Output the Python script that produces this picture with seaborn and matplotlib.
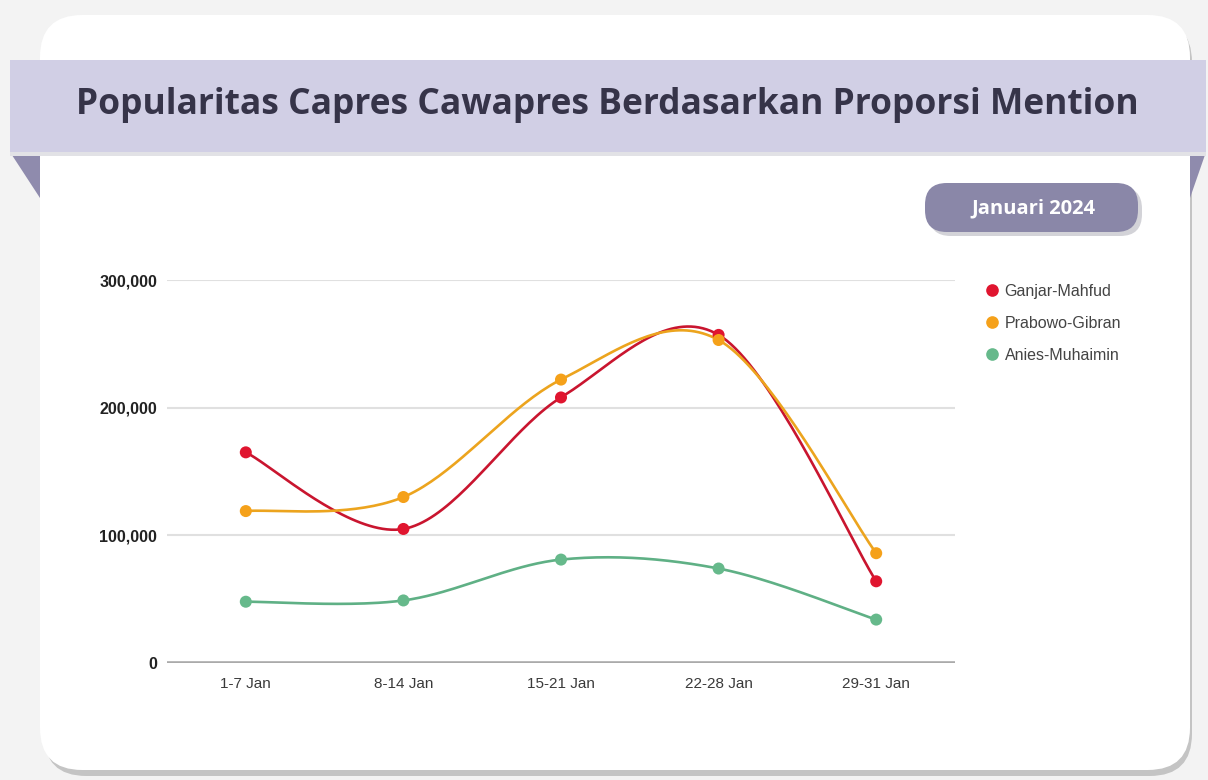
import numpy as np
import pandas as pd
import matplotlib
matplotlib.use("Agg")
import matplotlib.pyplot as plt
import seaborn as sns
from matplotlib.patches import FancyBboxPatch, Polygon
from matplotlib.ticker import FuncFormatter

# ---------------- data ----------------
periods = ["1-7 Jan", "8-14 Jan", "15-21 Jan", "22-28 Jan", "29-31 Jan"]
ganjar = [165000, 105000, 208000, 257000, 64000]
prabowo = [119000, 130000, 222000, 253000, 86000]
anies = [48000, 49000, 81000, 74000, 34000]
series_names = ["Ganjar-Mahfud", "Prabowo-Gibran", "Anies-Muhaimin"]
y_ticks = [0, 100000, 200000, 300000]
title = "Popularitas Capres Cawapres Berdasarkan Proporsi Mention"
badge = "Januari 2024"

marker_colors = ["#e0152f", "#f5a11a", "#66b98b"]
line_colors = ["#c9152f", "#eca41e", "#5fb085"]

W, H = 1208, 780
sns.set_theme(style="white")
plt.rcParams["font.family"] = ["Liberation Sans", "DejaVu Sans"]

fig = plt.figure(figsize=(W / 100, H / 100), dpi=100)
fig.patch.set_facecolor("#f3f3f3")


def fx(px):
    return px / W


def fy(py):
    return 1 - py / H


# ---------------- background decoration ----------------
shadow = FancyBboxPatch((fx(44), fy(776)), fx(1192) - fx(44), fy(20) - fy(776),
                        boxstyle="round,pad=0,rounding_size=0.035",
                        transform=fig.transFigure, facecolor="#c4c4c4",
                        edgecolor="none", zorder=-12, mutation_aspect=W / H)
fig.add_artist(shadow)
card = FancyBboxPatch((fx(40), fy(770)), fx(1190) - fx(40), fy(15) - fy(770),
                      boxstyle="round,pad=0,rounding_size=0.035",
                      transform=fig.transFigure, facecolor="white",
                      edgecolor="none", zorder=-11, mutation_aspect=W / H)
fig.add_artist(card)

tri_l = Polygon([(fx(10), fy(152)), (fx(40), fy(152)), (fx(40), fy(198))],
                closed=True, transform=fig.transFigure, facecolor="#8f8bad",
                edgecolor="none", zorder=-10)
tri_r = Polygon([(fx(1190), fy(152)), (fx(1206), fy(152)), (fx(1190), fy(198))],
                closed=True, transform=fig.transFigure, facecolor="#8f8bad",
                edgecolor="none", zorder=-10)
fig.add_artist(tri_l)
fig.add_artist(tri_r)

fig.add_artist(plt.Rectangle((fx(10), fy(156)), fx(1206) - fx(10), fy(60) - fy(156),
                             transform=fig.transFigure, facecolor="#e2e2e6",
                             edgecolor="none", zorder=-9))
fig.add_artist(plt.Rectangle((fx(10), fy(152)), fx(1206) - fx(10), fy(60) - fy(152),
                             transform=fig.transFigure, facecolor="#d1cfe5",
                             edgecolor="none", zorder=-8))
fig.text(fx(607), fy(105), title, ha="center", va="center", fontsize=25.5,
         fontweight="bold", color="#363449", family=["Open Sans", "DejaVu Sans"])

fig.add_artist(FancyBboxPatch((fx(929), fy(236)), fx(1142) - fx(929), fy(187) - fy(236),
                              boxstyle="round,pad=0,rounding_size=0.018",
                              transform=fig.transFigure, facecolor="#d3d3d8",
                              edgecolor="none", zorder=-7, mutation_aspect=W / H))
fig.add_artist(FancyBboxPatch((fx(925), fy(232)), fx(1138) - fx(925), fy(183) - fy(232),
                              boxstyle="round,pad=0,rounding_size=0.018",
                              transform=fig.transFigure, facecolor="#8a87a8",
                              edgecolor="none", zorder=-6, mutation_aspect=W / H))
fig.text(fx(1033), fy(208), badge, ha="center", va="center", fontsize=14.5,
         fontweight="bold", color="white", family=["Open Sans", "DejaVu Sans"])

# ---------------- chart ----------------
ax = fig.add_axes([fx(167), fy(663), fx(955) - fx(167), fy(280) - fy(663)])
ax.set_facecolor("none")

values = [ganjar, prabowo, anies]
pts = pd.DataFrame({
    "x": np.tile(np.arange(len(periods)), len(series_names)),
    "y": np.concatenate(values),
    "series": np.repeat(series_names, len(periods)),
})


def bezier_path(xv, yv, n=40, k=1 / 6):
    P = np.column_stack([xv, yv]).astype(float)
    Q = np.vstack([P[0], P, P[-1]])
    out = []
    for i in range(len(P) - 1):
        p0, p1, p2, p3 = Q[i], Q[i + 1], Q[i + 2], Q[i + 3]
        c1 = p1 + (p2 - p0) * k
        c2 = p2 - (p3 - p1) * k
        t = np.linspace(0, 1, n, endpoint=(i == len(P) - 2))[:, None]
        b = (1 - t) ** 3 * p1 + 3 * (1 - t) ** 2 * t * c1 + 3 * (1 - t) * t ** 2 * c2 + t ** 3 * p2
        out.append(b)
    return np.vstack(out)


curves = []
for name, vals in zip(series_names, values):
    c = bezier_path(np.arange(len(periods)), vals)
    curves.append(pd.DataFrame({"x": c[:, 0], "y": c[:, 1], "series": name}))
curves = pd.concat(curves, ignore_index=True)

sns.lineplot(data=curves, x="x", y="y", hue="series", hue_order=series_names,
             palette=line_colors, sort=False, estimator=None, linewidth=1.9,
             legend=False, ax=ax, zorder=3)
sns.scatterplot(data=pts, x="x", y="y", hue="series", hue_order=series_names,
                palette=marker_colors, s=75, edgecolor="none", ax=ax, zorder=4)

ax.set_xlim(-0.5, len(periods) - 0.5)
ax.set_ylim(0, 300000)
ax.set_xticks(range(len(periods)))
ax.set_xticklabels(periods)
ax.set_yticks(y_ticks)
ax.yaxis.set_major_formatter(FuncFormatter(lambda v, p: f"{int(v):,}"))
ax.set_xlabel("")
ax.set_ylabel("")
for s in ax.spines.values():
    s.set_visible(False)
for v in y_ticks[1:]:
    ax.axhline(v, color="#e0e0e0", lw=1.5, zorder=1)
ax.axhline(0, color="#aaaaaa", lw=2.6, zorder=2)
ax.tick_params(axis="y", length=0, pad=7, labelsize=11.5, labelcolor="#222222")
ax.tick_params(axis="x", length=0, pad=10, labelsize=11, labelcolor="#3a3a3a")
for lab in ax.get_yticklabels():
    lab.set_fontweight("bold")

leg = ax.legend(loc="upper left", bbox_to_anchor=(fx(975), fy(276)),
                bbox_transform=fig.transFigure, frameon=False, fontsize=11.5,
                handletextpad=0.25, labelspacing=1.05, markerscale=1.05,
                borderpad=0, handlelength=1.1)
for t in leg.get_texts():
    t.set_color("#444444")

fig.savefig("out.png", dpi=100, facecolor=fig.get_facecolor())
